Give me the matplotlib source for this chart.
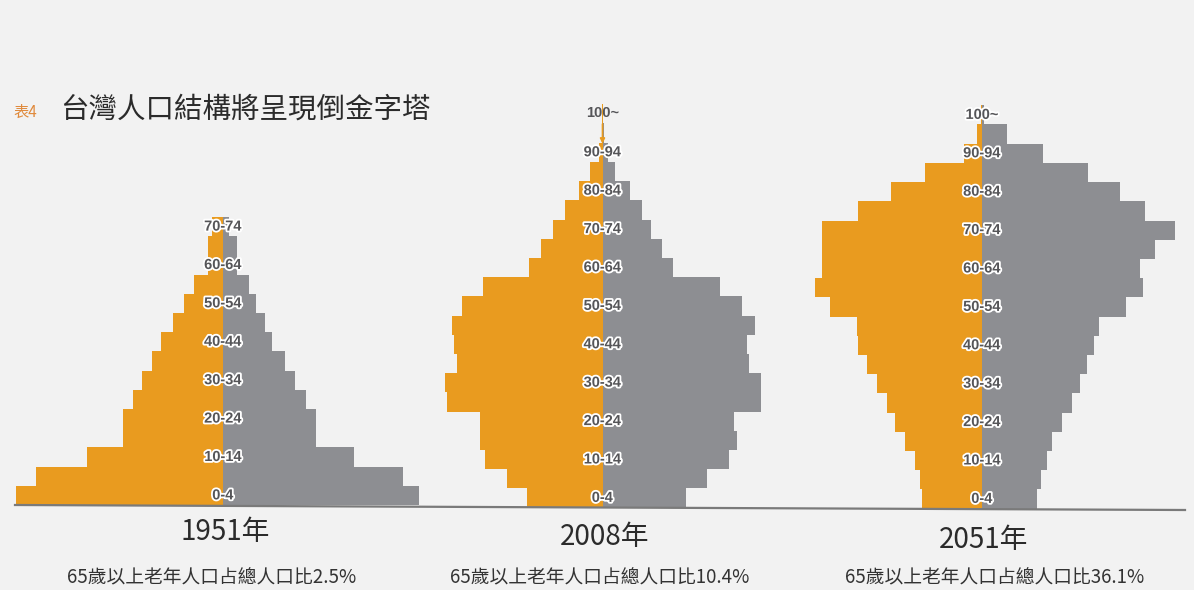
import matplotlib.pyplot as plt
import matplotlib.patheffects as pe
from matplotlib.lines import Line2D

plt.rcParams['font.family'] = ['Noto Sans CJK TC', 'DejaVu Sans']

# five-year age groups, bottom to top
ages = ['0-4', '5-9', '10-14', '15-19', '20-24', '25-29', '30-34', '35-39',
        '40-44', '45-49', '50-54', '55-59', '60-64', '65-69', '70-74',
        '75-79', '80-84', '85-89', '90-94', '95-99', '100~']

years = ['1951年', '2008年', '2051年']
elderly_share = ['2.5%', '10.4%', '36.1%']

# population per age group (relative units), left side / right side
male_1951 = [207, 187, 136, 100, 100, 90, 81, 71, 62, 50, 39, 29, 15, 15, 11]
female_1951 = [196, 180, 131, 93, 93, 83, 72, 62, 49, 42, 33, 26, 14, 14, 6]

male_2008 = [76, 96, 118, 123, 123, 156, 158, 146, 149, 151, 141,
             120, 74, 62, 50, 38, 24, 13, 4, 1, 0.3]
female_2008 = [83, 104, 126, 134, 131, 158, 158, 146, 144, 152, 139,
               117, 70, 59, 48, 39, 27, 12, 5, 1.5, 0.5]

male_2051 = [60, 62, 67, 77, 87, 95, 105, 115, 124, 125, 152,
             167, 160, 160, 160, 124, 91, 57, 18, 5, 1]
female_2051 = [55, 59, 65, 70, 80, 90, 98, 105, 112, 117, 144,
               161, 158, 173, 193, 163, 138, 106, 61, 25, 2]

ORANGE = '#E99B1F'
GREY = '#8D8E92'
PAPER = '#F2F2F2'
INK = '#2B2B2B'

W, H = 1194, 590
BAR_PX = 19.2
HALF = 210

fig = plt.figure(figsize=(W / 100, H / 100), dpi=100, facecolor=PAPER)


def fx(x):
    return x / W


def fy(y):
    return 1 - y / H


# baseline under the three pyramids
fig.add_artist(Line2D([fx(15), fx(1185)], [fy(505), fy(510)],
                      color='#7A7A7A', lw=1.6))

panels = [
    (male_1951, female_1951, 223, 505, 532, 212),
    (male_2008, female_2008, 602.5, 507.5, 537, 600),
    (male_2051, female_2051, 982, 508.5, 540, 995),
]

label_fx = [pe.withStroke(linewidth=2.6, foreground='white')]
label_kw = dict(ha='center', va='center', fontsize=10.5, fontweight='bold',
                family='Liberation Sans', color='#555558')

for n, (male, female, cx, base, year_y, sub_x) in enumerate(panels):
    ax = fig.add_axes([fx(cx - HALF), (H - base) / H,
                       2 * HALF / W, len(ages) * BAR_PX / H])
    pos = list(range(len(male)))
    ax.barh(pos, [-v for v in male], height=1, align='edge',
            color=ORANGE, linewidth=0)
    ax.barh(pos, female, height=1, align='edge', color=GREY, linewidth=0)
    ax.set_xlim(-HALF, HALF)
    ax.set_ylim(0, len(ages))
    ax.axis('off')
    ax.patch.set_alpha(0)

    for i in range(0, len(male), 2):
        if ages[i] == '100~' and n == 1:
            ax.annotate(ages[i], xy=(0, 18.95), xytext=(0, 20.55),
                        arrowprops=dict(arrowstyle='-|>', color=ORANGE,
                                        lw=1.2, mutation_scale=7,
                                        shrinkA=1, shrinkB=0),
                        **label_kw)
            continue
        ax.text(0, i + 0.5, ages[i], path_effects=label_fx, **label_kw)

    fig.text(fx(cx + 2), fy(year_y), years[n], ha='center', va='center',
             fontsize=20, color=INK)
    fig.text(fx(sub_x), fy(578), '65歲以上老年人口占總人口比' + elderly_share[n],
             ha='center', va='center', fontsize=13.5, color='#333333')

# title
fig.text(fx(13), fy(112), '表4', ha='left', va='center',
         fontsize=11, color='#E08A3C')
fig.text(fx(60), fy(110), '台灣人口結構將呈現倒金字塔', ha='left', va='center',
         fontsize=20.5, color=INK)

fig.savefig('out.png', dpi=100, facecolor=PAPER)
